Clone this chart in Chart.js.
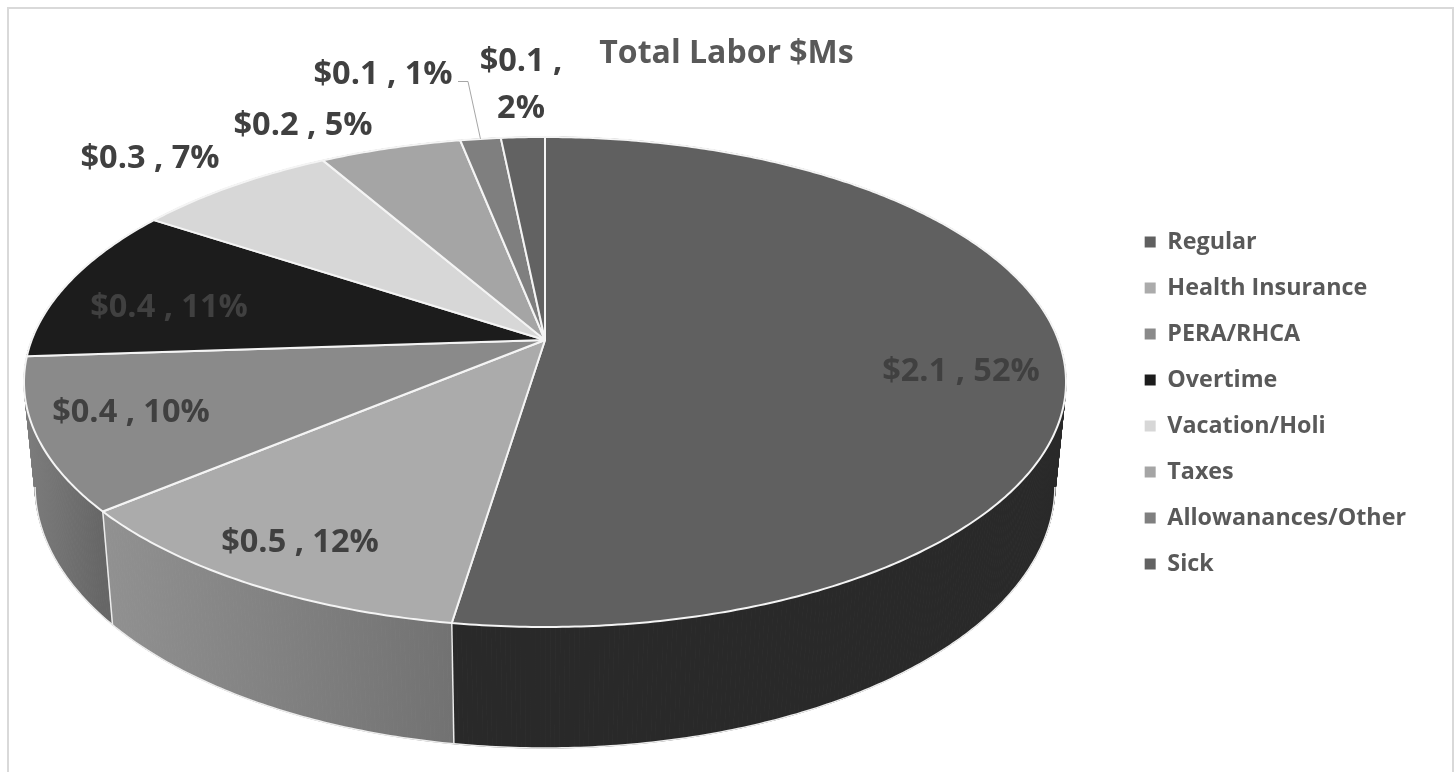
<!DOCTYPE html>
<html>
<head>
<meta charset="utf-8">
<title>Total Labor $Ms</title>
<script src="https://cdn.jsdelivr.net/npm/chart.js@4"></script>
<style>
  html, body { margin: 0; padding: 0; background: #fff; }
  #wrap { width: 1455px; height: 772px; overflow: hidden; }
</style>
</head>
<body>
<div id="wrap"><canvas id="laborChart" width="1455" height="772"></canvas></div>
<script>
// chart data
var categories = ["Regular", "Health Insurance", "PERA/RHCA", "Overtime", "Vacation/Holi", "Taxes", "Allowanances/Other", "Sick"];
var laborValues = [2.12, 0.465, 0.405, 0.42, 0.30, 0.21, 0.06, 0.065];
var amountLabels = ["$2.1", "$0.5", "$0.4", "$0.4", "$0.3", "$0.2", "$0.1", "$0.1"];
var percentLabels = ["52%", "12%", "10%", "11%", "7%", "5%", "1%", "2%"];
var sliceColors = ["#606060", "#ababab", "#8a8a8a", "#1c1c1c", "#d7d7d7", "#a5a5a5", "#7f7f7f", "#626262"];

// wall shading, left and right end of each slice side
var wallColors = [["#292929", "#292929"], ["#919191", "#727272"], ["#7c7c7c", "#666666"], ["#111", "#111"],
                  ["#999", "#999"], ["#777", "#777"], ["#555", "#555"], ["#444", "#444"]];

// label centres, the 3D pie has hand placed labels
var labelSpots = [
  { x: 961, y: 370 }, { x: 300, y: 541 }, { x: 131, y: 411 }, { x: 169, y: 306 },
  { x: 150, y: 157 }, { x: 303, y: 124 }, { x: 383, y: 73 }, { x: 521, y: 60, wrap: true }
];

// perspective rings of the pie: top face and bottom edge
var topRing = { cx: 545, cy: 340, a: 513.3, b: 237.8, p: -0.1714 };
var bottomRing = { cx: 545, cy: 441.5, a: 502.5, b: 254.4, p: -0.17 };

// part of the bottom edge that can be seen, where the rings fold over
var rimStart = 100 * Math.PI / 180;
var rimEnd = 260 * Math.PI / 180;

var labelFont = "bold 32.5px 'Open Sans'";

// theta is measured clockwise from 12 o'clock
function project(ring, theta, r) {
  var u = Math.sin(theta) * r, v = -Math.cos(theta) * r;
  var d = 1 + ring.p * v;
  return { x: ring.cx + ring.a * u / d, y: ring.cy + ring.b * v / d };
}

function traceArc(ctx, ring, from, to, first) {
  var steps = Math.max(2, Math.ceil(Math.abs(to - from) / 0.01));
  for (var i = 0; i <= steps; i++) {
    var pt = project(ring, from + (to - from) * i / steps, 1);
    if (i == 0 && first) ctx.moveTo(pt.x, pt.y);
    else ctx.lineTo(pt.x, pt.y);
  }
}

// the two rings cross, so one outline would lose the silhouette: fill thin strips
function drawWall(ctx, from, to, paint) {
  var steps = Math.max(2, Math.ceil((to - from) / 0.008));
  ctx.fillStyle = paint;
  ctx.strokeStyle = paint;
  ctx.lineWidth = 1;
  for (var i = 0; i < steps; i++) {
    var a = from + (to - from) * i / steps;
    var b = from + (to - from) * (i + 1) / steps;
    var p1 = project(topRing, a, 1), p2 = project(topRing, b, 1);
    var p3 = project(bottomRing, b, 1), p4 = project(bottomRing, a, 1);
    ctx.beginPath();
    ctx.moveTo(p1.x, p1.y);
    ctx.lineTo(p2.x, p2.y);
    ctx.lineTo(p3.x, p3.y);
    ctx.lineTo(p4.x, p4.y);
    ctx.closePath();
    ctx.fill();
    ctx.stroke();
  }
}

var pie3d = {
  id: "pie3d",
  beforeDraw: function(chart) {
    var ctx = chart.ctx;
    ctx.save();
    ctx.fillStyle = "#fff";
    ctx.fillRect(0, 0, chart.width, chart.height);
    // chart frame, open at the bottom of the crop
    ctx.strokeStyle = "#d9d9d9";
    ctx.lineWidth = 2;
    ctx.beginPath();
    ctx.moveTo(8, 772);
    ctx.lineTo(8, 8);
    ctx.lineTo(1453, 8);
    ctx.lineTo(1453, 772);
    ctx.stroke();
    ctx.restore();
  },
  beforeDatasetsDraw: function(chart) {
    var ctx = chart.ctx;
    var arcs = chart.getDatasetMeta(0).data;
    ctx.save();
    ctx.lineJoin = "round";

    // side walls first, last slice to first so the front ones stay on top
    for (var i = arcs.length - 1; i >= 0; i--) {
      var from = arcs[i].startAngle + Math.PI / 2;
      var to = arcs[i].endAngle + Math.PI / 2;
      var xa = project(topRing, from, 1).x, xb = project(topRing, to, 1).x;
      var grad = ctx.createLinearGradient(Math.min(xa, xb), 0, Math.max(xa, xb), 0);
      grad.addColorStop(0, wallColors[i][0]);
      grad.addColorStop(1, wallColors[i][1]);
      drawWall(ctx, from, to, grad);
    }

    // thin light rim and seams, front of the pie only
    ctx.strokeStyle = "#ececec";
    ctx.lineWidth = 1.5;
    arcs.forEach(function(arc) {
      var start = arc.startAngle + Math.PI / 2;
      var to = arc.endAngle + Math.PI / 2;
      if (start < rimEnd && to > rimStart) {
        ctx.beginPath();
        traceArc(ctx, bottomRing, Math.max(start, rimStart), Math.min(to, rimEnd), true);
        ctx.stroke();
      }
      if (to > rimStart && to < rimEnd) {
        var t = project(topRing, to, 1), b = project(bottomRing, to, 1);
        ctx.beginPath();
        ctx.moveTo(t.x, t.y);
        ctx.lineTo(b.x, b.y);
        ctx.stroke();
      }
    });

    // top face
    arcs.forEach(function(arc, i) {
      var from = arc.startAngle + Math.PI / 2;
      var to = arc.endAngle + Math.PI / 2;
      ctx.beginPath();
      ctx.moveTo(topRing.cx, topRing.cy);
      traceArc(ctx, topRing, from, to, false);
      ctx.closePath();
      ctx.fillStyle = sliceColors[i];
      ctx.fill();
      ctx.strokeStyle = "#f4f4f4";
      ctx.lineWidth = 2;
      ctx.stroke();
    });
    ctx.restore();
    return false; // skip the flat arcs
  },
  afterDraw: function(chart) {
    var ctx = chart.ctx;
    var arcs = chart.getDatasetMeta(0).data;
    ctx.save();

    // leader line of the Allowanances slice
    var small = arcs[6];
    var tip = project(topRing, (small.startAngle + small.endAngle) / 2 + Math.PI / 2, 1);
    ctx.strokeStyle = "#a6a6a6";
    ctx.lineWidth = 1;
    ctx.beginPath();
    ctx.moveTo(labelSpots[6].x + 75, labelSpots[6].y + 8.5);
    ctx.lineTo(labelSpots[6].x + 85, labelSpots[6].y + 8.5);
    ctx.lineTo(tip.x, tip.y);
    ctx.stroke();

    ctx.font = labelFont;
    ctx.fillStyle = "#404040";
    ctx.textAlign = "center";
    ctx.textBaseline = "middle";
    labelSpots.forEach(function(spot, i) {
      if (spot.wrap) {
        ctx.fillText(amountLabels[i] + " ,", spot.x, spot.y + 2);
        ctx.fillText(percentLabels[i], spot.x, spot.y + 49);
      } else {
        ctx.fillText(amountLabels[i] + " , " + percentLabels[i], spot.x, spot.y + 2);
      }
    });
    ctx.restore();
  }
};

var chart = new Chart("laborChart", {
  type: "pie",
  data: {
    labels: categories,
    datasets: [{
      data: laborValues,
      backgroundColor: sliceColors,
      borderWidth: 0
    }]
  },
  plugins: [pie3d],
  options: {
    responsive: false,
    animation: false,
    layout: { padding: { left: 37, right: 39, top: 34, bottom: 0 } },
    plugins: {
      tooltip: { enabled: false },
      title: {
        display: true,
        text: "Total Labor $Ms",
        color: "#595959",
        font: { family: "Open Sans", size: 32, weight: "bold" },
        padding: { top: 1, bottom: 10 }
      },
      legend: {
        position: "right",
        labels: {
          boxWidth: 11,
          boxHeight: 11,
          padding: 22.7,
          color: "#595959",
          font: { family: "Open Sans", size: 23.3, weight: "bold" }
        }
      }
    }
  }
});
</script>
</body>
</html>
